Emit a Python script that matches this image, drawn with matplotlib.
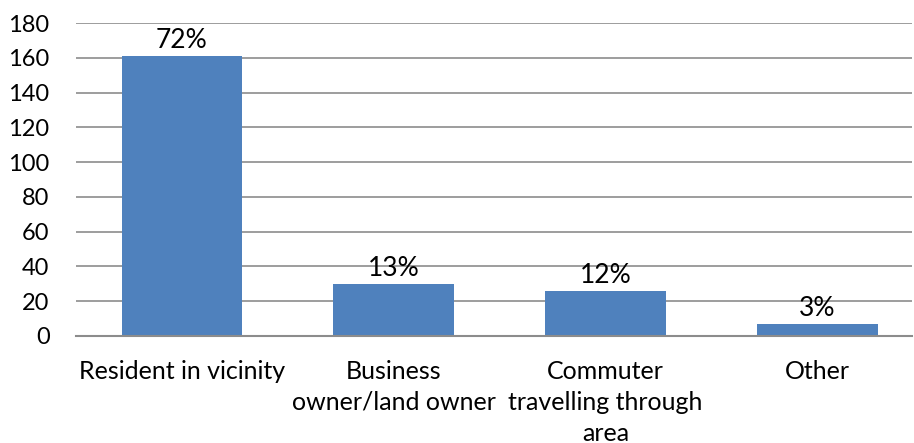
import matplotlib.pyplot as plt
import numpy as np

categories = ['Resident in vicinity', 'Business\nowner/land owner',
              'Commuter\ntravelling through\narea', 'Other']
counts = [161, 30, 26, 7]
shares = ['72%', '13%', '12%', '3%']

plt.rcParams['font.family'] = 'Lato'

fig = plt.figure(figsize=(9.14, 4.43), dpi=100)
ax = fig.add_axes([76/914, 107/443, (912-76)/914, 313/443])

x = np.arange(len(categories))
bars = ax.bar(x, counts, width=0.57, color='#4f81bd', zorder=3)

for b, s in zip(bars, shares):
    ax.text(b.get_x() + b.get_width()/2, b.get_height() + 1.5, s,
            ha='center', va='bottom', fontsize=19)

ax.set_ylim(0, 180)
ax.set_xlim(-0.5, (912-75.5)/212 - 0.5)
ax.set_yticks(np.arange(0, 181, 20))
ax.yaxis.grid(True, color='#8c8c8c', linewidth=1.2, zorder=0)
ax.set_xticks(x)
ax.set_xticklabels(categories, fontsize=18, linespacing=1.42, va='top')
ax.tick_params(axis='both', length=0)
ax.tick_params(axis='x', pad=17)
ax.tick_params(axis='y', pad=19, labelsize=17)

for side in ['top', 'right', 'left']:
    ax.spines[side].set_visible(False)
ax.spines['bottom'].set_color('#8c8c8c')
ax.spines['bottom'].set_linewidth(1.5)
ax.spines['bottom'].set_zorder(4)

fig.savefig('out.png', dpi=100)
